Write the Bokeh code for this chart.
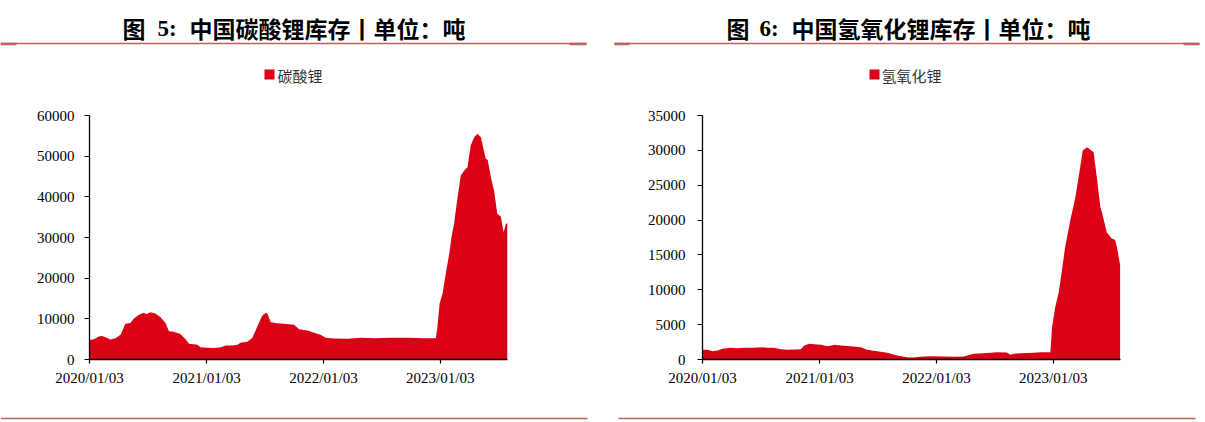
import pandas as pd
from bokeh.plotting import figure
from bokeh.layouts import row, column
from bokeh.models import Range1d, FixedTicker, DatetimeTickFormatter, NumeralTickFormatter
from bokeh.core.properties import value
from bokeh.embed import file_html
from bokeh.resources import INLINE

# ---------------- data ----------------
li2co3_dates = [
    "2020-01-03", "2020-01-17", "2020-02-01", "2020-02-11", "2020-02-22", "2020-03-08",
    "2020-03-24", "2020-04-09", "2020-04-24", "2020-05-10", "2020-05-20", "2020-06-05",
    "2020-06-21", "2020-06-29", "2020-07-11", "2020-07-27", "2020-08-12", "2020-08-28",
    "2020-09-07", "2020-09-22", "2020-10-13", "2020-10-29", "2020-11-09", "2020-12-05",
    "2020-12-15", "2021-01-05", "2021-01-26", "2021-02-16", "2021-03-04", "2021-03-25",
    "2021-04-09", "2021-04-19", "2021-05-10", "2021-05-26", "2021-06-05", "2021-06-16",
    "2021-06-26", "2021-07-07", "2021-07-12", "2021-07-22", "2021-08-12", "2021-09-02",
    "2021-10-03", "2021-10-19", "2021-11-14", "2021-12-05", "2021-12-25", "2022-01-10",
    "2022-02-05", "2022-03-19", "2022-04-30", "2022-06-10", "2022-08-01", "2022-09-22",
    "2022-11-13", "2022-12-20", "2022-12-25", "2023-01-01", "2023-01-10", "2023-01-20",
    "2023-01-31", "2023-02-07", "2023-02-15", "2023-02-26", "2023-03-08", "2023-03-19",
    "2023-03-29", "2023-04-08", "2023-04-19", "2023-04-29", "2023-05-10", "2023-05-25",
    "2023-05-31", "2023-06-10", "2023-06-20", "2023-06-30", "2023-07-11", "2023-07-20",
    "2023-07-27", "2023-08-01",
]
li2co3_values = [
    4800, 5000, 5650, 5800, 5500, 4900,
    5200, 6070, 8780, 9000, 10000, 11000,
    11480, 11150, 11640, 11300, 10400, 8930,
    6960, 6800, 6300, 5000, 3860, 3600,
    3030, 2900, 2800, 3030, 3440, 3440,
    3600, 4100, 4350, 5330, 7130, 9170,
    10820, 11480, 11230, 9170, 8930, 8770,
    8520, 7460, 7130, 6560, 6070, 5330,
    5170, 5080, 5330, 5250, 5330, 5330,
    5250, 5250, 7950, 13840, 16150, 21070,
    25990, 30080, 33360, 39920, 45250, 46480,
    47300, 52620, 54670, 55490, 54670, 49340,
    49100, 44830, 41560, 35820, 35160, 31310,
    33360, 33520,
]

lioh_dates = [
    "2020-01-03", "2020-01-19", "2020-02-03", "2020-02-19", "2020-03-06", "2020-04-01",
    "2020-04-21", "2020-05-12", "2020-06-12", "2020-07-08", "2020-07-24", "2020-08-14",
    "2020-09-04", "2020-09-24", "2020-10-21", "2020-11-05", "2020-11-16", "2020-12-02",
    "2020-12-17", "2021-01-07", "2021-01-28", "2021-02-18", "2021-03-10", "2021-04-10",
    "2021-05-11", "2021-05-31", "2021-07-02", "2021-08-02", "2021-09-02", "2021-10-03",
    "2021-10-19", "2021-11-14", "2021-12-15", "2022-01-26", "2022-02-26", "2022-03-29",
    "2022-04-29", "2022-05-31", "2022-07-11", "2022-08-11", "2022-08-22", "2022-09-01",
    "2022-09-22", "2022-11-03", "2022-11-24", "2022-12-25", "2022-12-30", "2023-01-09",
    "2023-01-20", "2023-01-30", "2023-02-09", "2023-02-25", "2023-03-13", "2023-03-28",
    "2023-04-05", "2023-04-18", "2023-04-29", "2023-05-09", "2023-05-19", "2023-05-30",
    "2023-06-04", "2023-06-19", "2023-07-05", "2023-07-15", "2023-07-21", "2023-07-31",
]
lioh_values = [
    1390, 1390, 1190, 1290, 1530, 1670,
    1620, 1670, 1670, 1770, 1670, 1670,
    1480, 1390, 1430, 1480, 2010, 2250,
    2200, 2100, 1910, 2100, 2010, 1910,
    1770, 1390, 1190, 960, 570, 330,
    280, 380, 480, 430, 380, 430,
    810, 910, 1050, 1000, 670, 810,
    910, 960, 1050, 1050, 4640, 7510,
    9660, 12770, 16110, 19940, 23290, 27590,
    29980, 30450, 30070, 29740, 26150, 21850,
    21130, 18260, 17310, 17170, 16110, 13480,
]

x_tick_labels = ["2020/01/03", "2021/01/03", "2022/01/03", "2023/01/03"]
li2co3_yticks = [0, 10000, 20000, 30000, 40000, 50000, 60000]
lioh_yticks = [0, 5000, 10000, 15000, 20000, 25000, 30000, 35000]

fig_numbers = ["图 5:", "图 6:"]
titles = ["中国碳酸锂库存丨单位：吨", "中国氢氧化锂库存丨单位：吨"]
series_names = ["碳酸锂", "氢氧化锂"]

X_START = "2020-01-03"
X_END = "2023-08-01"

AREA = "#DA0016"
RULE = "#C0605A"
CJK = "Noto Sans CJK SC"
SERIF = "Liberation Serif"

TOP_H = 95
CHART_H = 300
BOT_H = 422 - TOP_H - CHART_H


def no_align(p):
    if "frame_align" in p.properties():
        p.frame_align = False
    return p


def blank(width, height):
    p = figure(width=width, height=height, output_backend="svg", toolbar_location=None,
               x_range=Range1d(0, width), y_range=Range1d(height, 0),
               x_axis_type=None, y_axis_type=None, min_border=0,
               min_border_left=0, min_border_right=0, min_border_top=0, min_border_bottom=0)
    p.outline_line_color = None
    p.grid.visible = False
    p.background_fill_color = "white"
    return no_align(p)


def header(width, fig_no, title, name, xs, line_x, thick, legend_x):
    p = blank(width, TOP_H)
    fig_char, num = fig_no.split(" ")
    p.text(x=[xs[0]], y=[27], text=[fig_char], text_font=value(CJK), text_font_style="bold",
           text_font_size="23px", text_baseline="middle", text_align="left", text_color="#000000")
    p.text(x=[xs[1]], y=[28], text=[num], text_font=value(SERIF), text_font_style="bold",
           text_font_size="23px", text_baseline="middle", text_align="left", text_color="#000000")
    p.text(x=[xs[2]], y=[27], text=[title], text_font=value(CJK), text_font_style="bold",
           text_font_size="23px", text_baseline="middle", text_align="left", text_color="#000000")
    p.segment(x0=[line_x[0]], y0=[43], x1=[line_x[1]], y1=[43], line_color=RULE, line_width=1.5)
    for a, b in thick:
        p.quad(left=[a], right=[b], top=[42.3], bottom=[44.8], fill_color=RULE, line_color=None)
    p.quad(left=[legend_x[0]], right=[legend_x[0] + 10], top=[69], bottom=[79],
           fill_color=AREA, line_color=None)
    p.text(x=[legend_x[1]], y=[74.5], text=[name], text_font=value(CJK),
           text_font_size="15px", text_baseline="middle", text_align="left", text_color="#333333")
    return p


def chart(width, dates, vals, yticks, left, right, standoff):
    x = pd.to_datetime(dates)
    p = figure(width=width, height=CHART_H, output_backend="svg", toolbar_location=None,
               x_axis_type="datetime",
               x_range=Range1d(pd.Timestamp(X_START), pd.Timestamp(X_END)),
               y_range=Range1d(yticks[0], yticks[-1]),
               min_border_left=left, min_border_right=right,
               min_border_top=20, min_border_bottom=36)
    p.varea(x=x, y1=[0] * len(vals), y2=vals, fill_color=AREA)
    p.outline_line_color = None
    p.grid.visible = False
    p.background_fill_color = "white"

    xt = [pd.Timestamp(pd.to_datetime(t, format="%Y/%m/%d")).value // 10**6 for t in x_tick_labels]
    p.xaxis.ticker = FixedTicker(ticks=xt)
    fmt = "%Y/%m/%d"
    p.xaxis.formatter = DatetimeTickFormatter(
        microseconds=fmt, milliseconds=fmt, seconds=fmt, minsec=fmt, minutes=fmt,
        hourmin=fmt, hours=fmt, days=fmt, months=fmt, years=fmt)
    p.yaxis.ticker = FixedTicker(ticks=yticks)
    p.yaxis.formatter = NumeralTickFormatter(format="0")

    for ax in (p.xaxis, p.yaxis):
        ax.axis_line_color = "#000000"
        ax.axis_line_width = 1.3
        ax.major_tick_line_color = "#000000"
        ax.major_tick_line_width = 1.2
        ax.minor_tick_line_color = None
        ax.major_tick_in = 0
        ax.major_label_text_font = SERIF
        ax.major_label_text_font_size = "15px"
        ax.major_label_text_color = "#000000"
    p.xaxis.major_tick_out = 4
    p.xaxis.major_label_standoff = 6
    p.yaxis.major_tick_out = 5
    p.yaxis.major_label_standoff = standoff
    return no_align(p)


def footer(width, line_x):
    p = blank(width, BOT_H)
    p.segment(x0=[line_x[0]], y0=[23], x1=[line_x[1]], y1=[23], line_color=RULE, line_width=1.5)
    return p


LW, RW = 607, 598

left = column(
    header(LW, fig_numbers[0], titles[0], series_names[0], (122, 157, 189), (0, 586),
           [(0, 16), (569, 586)], (264, 277)),
    chart(LW, li2co3_dates, li2co3_values, li2co3_yticks, 89, LW - 89 - 418, 10),
    footer(LW, (0, 587)),
    spacing=0,
)
right = column(
    header(RW, fig_numbers[1], titles[1], series_names[1], (119, 152, 184), (7, 592),
           [(7, 22), (576, 592)], (262, 274)),
    chart(RW, lioh_dates, lioh_values, lioh_yticks, 95, RW - 95 - 418, 12),
    footer(RW, (11, 588)),
    spacing=0,
)
layout = row(left, right, spacing=0)

open("out.html", "w").write(file_html(layout, INLINE))
